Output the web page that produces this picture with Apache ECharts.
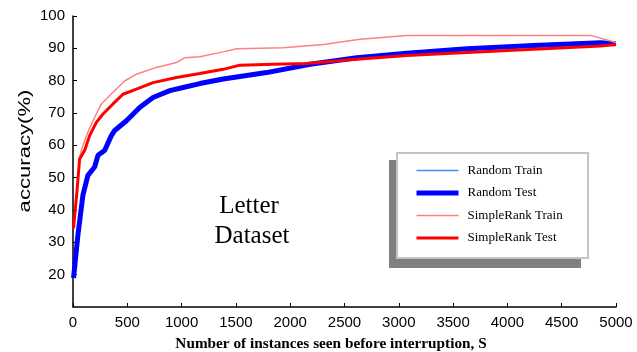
<!DOCTYPE html>
<html>
<head>
<meta charset="utf-8">
<script src="https://cdn.jsdelivr.net/npm/echarts@6/dist/echarts.min.js"></script>
<style>
html, body { margin: 0; padding: 0; background: #fff; }
#main { width: 637px; height: 352px; }
</style>
</head>
<body>
<div id="main"></div>
<script>
// data
var seriesNames = ["Random Train", "Random Test", "SimpleRank Train", "SimpleRank Test"];
var seriesColors = ["#3d8eff", "#0000ff", "#ff8080", "#ff0000"];
var seriesWidths = [1.5, 5, 1.5, 3];

var randomX = [5, 45, 91, 137, 199, 230, 291, 353, 384, 492, 614, 737, 891, 1014, 1168, 1383, 1783, 2183, 2613, 3075, 3628, 4243, 4858, 5000];
var randomTrain = [19, 32.5, 45, 51.2, 53.8, 57.3, 58.9, 63.4, 65, 68, 72, 75.1, 77.2, 78.2, 79.4, 80.8, 82.8, 85.4, 87.4, 88.8, 90.2, 91.3, 92.1, 91.6];
var randomTest = [19, 32.2, 44.5, 50.7, 53.3, 56.9, 58.4, 63, 64.6, 67.6, 71.7, 74.8, 76.9, 77.9, 79.1, 80.5, 82.5, 85.1, 87.1, 88.5, 89.9, 90.9, 91.7, 91.4];

var srTestX = [5, 36, 61, 107, 153, 215, 276, 368, 460, 584, 737, 953, 1168, 1383, 1537, 1844, 2152, 2613, 3075, 3628, 4243, 4858, 5000];
var srTest = [34.3, 45.6, 55.8, 58.4, 63, 67.1, 69.7, 72.8, 75.8, 77.4, 79.4, 81, 82.2, 83.5, 84.8, 85.1, 85.3, 86.6, 87.8, 88.7, 89.7, 90.7, 91.2];

var srTrainX = [5, 36, 61, 91, 137, 184, 261, 368, 476, 584, 768, 953, 1030, 1168, 1383, 1506, 1936, 2305, 2644, 3075, 4766, 5000];
var srTrain = [34.3, 45.6, 56.5, 59.9, 64.1, 67.6, 72.8, 76.4, 79.9, 82, 84.1, 85.6, 87.1, 87.4, 88.9, 89.9, 90.2, 91.2, 92.8, 94, 94, 91.8];

function pairs(xs, ys) {
    return xs.map(function (x, i) { return [x, ys[i]]; });
}

var myChart = echarts.init(document.getElementById("main"));
var serif = "'Liberation Serif', 'DejaVu Serif', serif";
var sans = "'Liberation Sans', Arial, sans-serif";

var allData = [pairs(randomX, randomTrain), pairs(randomX, randomTest), pairs(srTrainX, srTrain), pairs(srTestX, srTest)];

var option = {
    animation: false,
    grid: { left: 73, right: 21, top: 16, bottom: 45 },
    legend: {
        orient: 'vertical',
        left: 409,
        top: 159,
        itemWidth: 42,
        itemHeight: 14,
        itemGap: 9.5,
        itemStyle: { opacity: 0 },
        textStyle: { fontFamily: serif, fontSize: 13, color: '#000', padding: [0, 0, 0, 4] },
        data: seriesNames.map(function (n, i) {
            return { name: n, lineStyle: { color: seriesColors[i], width: seriesWidths[i] } };
        })
    },
    xAxis: {
        type: 'value',
        min: 0,
        max: 5000,
        interval: 500,
        axisLine: { lineStyle: { color: '#000', width: 1.5 } },
        axisTick: { inside: true, length: 4, lineStyle: { color: '#000' } },
        axisLabel: { fontFamily: sans, fontSize: 15, color: '#000', margin: 8,
                     formatter: function (v) { return String(v); } },
        splitLine: { show: false }
    },
    yAxis: {
        type: 'value',
        min: 10,
        max: 100,
        interval: 10,
        axisLine: { show: true, lineStyle: { color: '#000', width: 1.5 } },
        axisTick: { show: true, inside: true, length: 4, lineStyle: { color: '#000' } },
        axisLabel: { fontFamily: sans, fontSize: 15, color: '#000', margin: 8, showMinLabel: false },
        splitLine: { show: false }
    },
    graphic: [
        { type: 'rect', z: 1, shape: { x: 389, y: 160, width: 192, height: 108 }, style: { fill: '#808080' } },
        { type: 'rect', z: 1, shape: { x: 397, y: 153, width: 191, height: 105 }, style: { fill: '#fff', stroke: '#c4c4c4', lineWidth: 2 } },
        { type: 'text', x: 249, y: 206, style: { text: 'Letter', font: '25px ' + serif, fill: '#000', align: 'center', verticalAlign: 'middle' } },
        { type: 'text', x: 252, y: 236, style: { text: 'Dataset', font: '25px ' + serif, fill: '#000', align: 'center', verticalAlign: 'middle' } },
        { type: 'text', x: 25, y: 151, rotation: Math.PI / 2, scaleX: 1.3,
          style: { text: 'accuracy(%)', font: '17px ' + sans, fill: '#000', align: 'center', verticalAlign: 'middle' } },
        { type: 'text', x: 331, y: 344, scaleX: 1.09,
          style: { text: 'Number of instances seen before interruption, S', font: 'bold 14px ' + serif, fill: '#000', align: 'center', verticalAlign: 'middle' } }
    ],
    series: seriesNames.map(function (n, i) {
        return {
            name: n, type: 'line', symbol: 'none', z: 3 + i, data: allData[i],
            lineStyle: { color: seriesColors[i], width: seriesWidths[i] },
            itemStyle: { color: seriesColors[i] }
        };
    })
};
myChart.setOption(option);
</script>
</body>
</html>
